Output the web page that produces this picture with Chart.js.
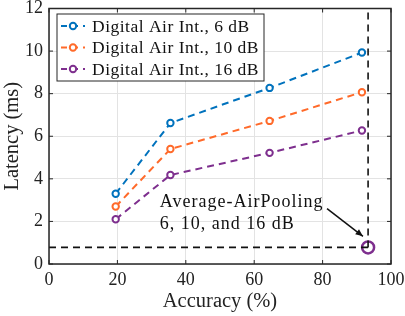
<!DOCTYPE html>
<html>
<head>
<meta charset="utf-8">
<script src="https://cdn.jsdelivr.net/npm/chart.js@4"></script>
<style>
  html, body { margin: 0; padding: 0; background: #fff; }
  #wrap { width: 405px; height: 316px; }
</style>
</head>
<body>
<div id="wrap"><canvas id="c" width="405" height="316"></canvas></div>
<script>
  var accuracy = [19.5, 35.5, 64.5, 91.5];
  var latency6 = [3.3, 6.62, 8.27, 9.93];
  var latency10 = [2.7, 5.4, 6.72, 8.07];
  var latency16 = [2.1, 4.18, 5.22, 6.27];
  var seriesLabels = ['Digital Air Int., 6 dB', 'Digital Air Int., 10 dB', 'Digital Air Int., 16 dB'];
  var poolingPoint = { x: 93.3, y: 0.78 };
  var noteLines = ['Average-AirPooling', '6, 10, and 16 dB'];
  var xTicks = [0, 20, 40, 60, 80, 100];
  var yTicks = [0, 2, 4, 6, 8, 10, 12];

  var FONT = '"Liberation Serif", "DejaVu Serif", serif';
  var colors = { blue: '#0072bd', orange: '#ff6a2a', purple: '#7e2f8e' };

  function pts(ys) {
    return accuracy.map(function (x, i) { return { x: x, y: ys[i] }; });
  }

  function series(label, ys, color) {
    return {
      label: label,
      data: pts(ys),
      borderColor: color,
      backgroundColor: '#fff',
      borderWidth: 2,
      borderDash: [7, 5],
      pointRadius: 3.2,
      pointBorderWidth: 2,
      pointBackgroundColor: '#fff',
      pointBorderColor: color,
      showLine: true,
      inLegend: true,
    };
  }

  // box, legend, note and arrow drawn on top
  var extras = {
    id: 'extras',
    afterDraw: function (chart) {
      var ctx = chart.ctx;
      var a = chart.chartArea;
      var xs = chart.scales.x, ys = chart.scales.y;
      ctx.save();

      // axes box
      ctx.strokeStyle = '#262626';
      ctx.lineWidth = 1.5;
      ctx.strokeRect(a.left, a.top, a.right - a.left, a.bottom - a.top);

      // inward ticks
      ctx.lineWidth = 1;
      xTicks.forEach(function (v) {
        var px = xs.getPixelForValue(v);
        ctx.beginPath();
        ctx.moveTo(px, a.bottom); ctx.lineTo(px, a.bottom - 4);
        ctx.moveTo(px, a.top); ctx.lineTo(px, a.top + 4);
        ctx.stroke();
      });
      yTicks.forEach(function (v) {
        var py = ys.getPixelForValue(v);
        ctx.beginPath();
        ctx.moveTo(a.left, py); ctx.lineTo(a.left + 4, py);
        ctx.moveTo(a.right, py); ctx.lineTo(a.right - 4, py);
        ctx.stroke();
      });

      // legend
      var lx = 57, ly = 14, lw = 207, lh = 67;
      ctx.fillStyle = '#fff';
      ctx.fillRect(lx, ly, lw, lh);
      ctx.strokeStyle = '#262626';
      ctx.lineWidth = 1;
      ctx.strokeRect(lx, ly, lw, lh);
      ctx.font = '17.5px ' + FONT;
      ctx.letterSpacing = '0.5px';
      ctx.textBaseline = 'middle';
      ctx.textAlign = 'left';
      var legendSets = chart.data.datasets.filter(function (d) { return d.inLegend; });
      legendSets.forEach(function (d, i) {
        var cy = ly + 12 + i * 21.5;
        ctx.strokeStyle = d.borderColor;
        ctx.lineWidth = 2;
        ctx.setLineDash([6, 5]);
        ctx.beginPath();
        ctx.moveTo(lx + 4, cy); ctx.lineTo(lx + 28, cy);
        ctx.stroke();
        ctx.setLineDash([]);
        ctx.beginPath();
        ctx.arc(lx + 16, cy, 3.2, 0, Math.PI * 2);
        ctx.fillStyle = '#fff';
        ctx.fill();
        ctx.stroke();
        ctx.fillStyle = '#111';
        ctx.fillText(d.label, lx + 35, cy + 1);
      });

      // annotation
      ctx.fillStyle = '#111';
      ctx.font = '18px ' + FONT;
      ctx.letterSpacing = '1px';
      ctx.textBaseline = 'alphabetic';
      ctx.fillText(noteLines[0], xs.getPixelForValue(32.4), ys.getPixelForValue(2.67));
      ctx.fillText(noteLines[1], xs.getPixelForValue(32.4), ys.getPixelForValue(1.64));
      ctx.letterSpacing = '0px';

      // arrow
      var x1 = xs.getPixelForValue(81.3), y1 = ys.getPixelForValue(2.6);
      var x2 = xs.getPixelForValue(91.8), y2 = ys.getPixelForValue(1.3);
      ctx.strokeStyle = '#111';
      ctx.lineWidth = 1.5;
      ctx.beginPath();
      ctx.moveTo(x1, y1); ctx.lineTo(x2, y2);
      ctx.stroke();
      var ang = Math.atan2(y2 - y1, x2 - x1);
      ctx.beginPath();
      ctx.moveTo(x2, y2);
      ctx.lineTo(x2 - 8 * Math.cos(ang - 0.4), y2 - 8 * Math.sin(ang - 0.4));
      ctx.lineTo(x2 - 8 * Math.cos(ang + 0.4), y2 - 8 * Math.sin(ang + 0.4));
      ctx.closePath();
      ctx.fillStyle = '#111';
      ctx.fill();
      ctx.restore();
    },
  };

  new Chart(document.getElementById('c'), {
    type: 'scatter',
    data: {
      datasets: [
        {
          label: 'guide-h',
          data: [{ x: 0, y: poolingPoint.y }, { x: poolingPoint.x, y: poolingPoint.y }],
          borderColor: '#111', borderWidth: 1.6, borderDash: [7, 5],
          pointRadius: 0, showLine: true,
        },
        {
          label: 'guide-v',
          data: [{ x: poolingPoint.x, y: poolingPoint.y }, { x: poolingPoint.x, y: 12 }],
          borderColor: '#111', borderWidth: 1.6, borderDash: [7, 5],
          pointRadius: 0, showLine: true,
        },
        series(seriesLabels[0], latency6, colors.blue),
        series(seriesLabels[1], latency10, colors.orange),
        series(seriesLabels[2], latency16, colors.purple),
        {
          label: 'Average-AirPooling',
          data: [poolingPoint],
          pointRadius: 6,
          pointBorderWidth: 2.5,
          pointBorderColor: colors.purple,
          pointBackgroundColor: '#fff',
          showLine: false,
        },
      ],
    },
    options: {
      responsive: false,
      animation: false,
      layout: { padding: { left: 0, right: 14, top: 6, bottom: 0 } },
      plugins: { legend: { display: false }, tooltip: { enabled: false } },
      scales: {
        x: {
          type: 'linear', min: 0, max: 100,
          afterBuildTicks: function (s) { s.ticks = xTicks.map(function (v) { return { value: v }; }); },
          afterFit: function (s) { s.height = 52; s.paddingLeft = 0; s.paddingRight = 0; },
          grid: { color: '#e3e3e3', lineWidth: 1, drawTicks: false },
          border: { display: false },
          ticks: { color: '#222', padding: 5, font: { family: FONT, size: 18 }, maxRotation: 0 },
          title: { display: true, text: 'Accuracy (%)', color: '#222', padding: { top: 0, bottom: 2 }, font: { family: FONT, size: 20.5 } },
        },
        y: {
          type: 'linear', min: 0, max: 12,
          afterBuildTicks: function (s) { s.ticks = yTicks.map(function (v) { return { value: v }; }); },
          afterFit: function (s) { s.width = 49; s.paddingTop = 0; s.paddingBottom = 0; },
          grid: { color: '#e3e3e3', lineWidth: 1, drawTicks: false },
          border: { display: false },
          ticks: { color: '#222', padding: 6, font: { family: FONT, size: 18 } },
          title: { display: true, text: 'Latency (ms)', color: '#222', padding: { top: 0, bottom: 0 }, font: { family: FONT, size: 20.5 } },
        },
      },
    },
    plugins: [extras],
  });
</script>
</body>
</html>
